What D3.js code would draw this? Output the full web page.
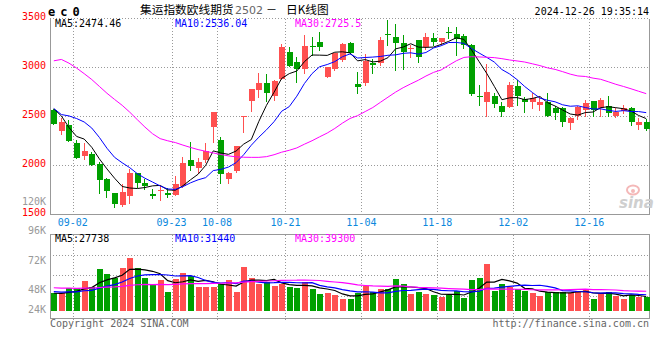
<!DOCTYPE html>
<html><head><meta charset="utf-8">
<script src="https://cdn.jsdelivr.net/npm/d3@7"></script>
<style>body{margin:0;background:#fff}svg{display:block}</style>
</head><body><svg id="c" width="660" height="360"></svg>
<script>
// ---------- data ----------
const dates = ["08-29","08-30",
"09-02","09-03","09-04","09-05","09-06","09-09","09-10","09-11","09-12","09-13","09-18","09-19","09-20","09-23","09-24","09-25","09-26","09-27","09-30",
"10-08","10-09","10-10","10-11","10-14","10-15","10-16","10-17","10-18","10-21","10-22","10-23","10-24","10-25","10-28","10-29","10-30","10-31",
"11-01","11-04","11-05","11-06","11-07","11-08","11-11","11-12","11-13","11-14","11-15","11-18","11-19","11-20","11-21","11-22","11-25","11-26","11-27","11-28","11-29",
"12-02","12-03","12-04","12-05","12-06","12-09","12-10","12-11","12-12","12-13","12-16","12-17","12-18","12-19","12-20","12-23","12-24","12-25","12-26"];
const open  = [2564,2354,2411,2224,2095,2115,2013,1860,1717,1595,1690,1918,1823,1711,1741,1714,1697,1789,2054,1969,2054,2394,2258,1857,1945,2496,2660,2768,2843,2710,2885,3155,3051,2979,3217,3256,2904,2979,3075,3245,2830,2836,3040,3040,3336,3313,3245,3183,3279,3205,3300,3258,3356,3340,3319,3228,2705,2649,2707,2605,2598,2809,2677,2649,2615,2649,2588,2581,2435,2503,2564,2656,2581,2605,2503,2554,2581,2411,2445];
const high  = [2570,2479,2462,2258,2224,2132,2037,1874,1720,1809,1959,1920,1857,1755,1789,1765,1891,2088,2234,2078,2224,2544,2285,1935,2197,2503,2775,2938,2932,2875,3240,3210,3108,3330,3305,3364,3006,3149,3245,3262,2955,3140,3081,3313,3483,3440,3330,3228,3279,3346,3345,3300,3414,3414,3340,3240,2819,3030,2741,2649,2853,2870,2700,2734,2700,2741,2605,2592,2489,2605,2666,2656,2683,2707,2581,2615,2592,2479,2469];
const low   = [2420,2323,2248,2075,2064,2000,1721,1680,1578,1588,1612,1775,1755,1670,1646,1680,1695,1782,1952,1925,2037,2241,1823,1816,1935,2343,2558,2700,2660,2670,2880,3017,2853,2938,3125,3172,2898,2972,3068,3142,2738,2819,2938,3023,3230,2972,2979,3110,3057,3190,3230,3240,3300,3125,3200,2720,2615,2500,2600,2503,2592,2615,2547,2581,2564,2503,2469,2401,2367,2469,2503,2503,2503,2503,2490,2530,2411,2367,2360];
const close = [2425,2438,2252,2078,2146,2003,1850,1738,1605,1724,1925,1823,1789,1690,1748,1694,1806,2020,1993,2030,2149,2544,1911,1925,2197,2503,2775,2843,2741,2865,3210,3017,2979,3217,3204,3204,3003,3142,3238,3149,2796,3068,3023,3279,3326,3245,3159,3194,3108,3310,3262,3295,3350,3289,3228,2725,2698,2751,2626,2547,2819,2711,2649,2683,2649,2507,2537,2445,2479,2592,2639,2564,2666,2530,2540,2588,2445,2440,2370];
const volume = [34300,34300,44000,44000,58200,46600,81500,71800,63400,84100,103500,82800,64700,50400,60200,36900,62100,74400,67900,47200,45900,47200,51700,60200,37600,85400,64700,52400,55600,48500,51700,47200,45300,57000,42700,33000,35600,31100,23300,23300,34300,48500,37600,42700,42700,62100,52400,33000,37600,33000,31100,27900,31100,39500,25900,60200,64700,90500,39500,52400,45900,42700,39500,34300,29800,37600,37600,37600,34300,39500,40800,23300,33000,37600,29800,23300,32000,27900,27900];
// closes / volumes of the 29 sessions before the first visible one (for the moving averages)
const priorCloses = [2018,3392,3578,3856,3803,3950,3838,3495,3524,4025,4133,4039,3730,3248,2354,2346,2800,2713,2690,2659,3054,2391,2345,2497,2623,2805,2843,2531,2280];
const priorVolumes = [52000,47000,55000,48000,44000,50000,53000,46000,49000,51000,45000,48000,56000,50000,47000,49000,52000,46000,48000,44000,42000,39000,44000,38000,40000,36000,33000,35000,34000];
const priceTicks = [3500,3000,2500,2000,1500];
const priceGrid = [3000,2500,2000];
const volTickValues = [120000,96000,72000,48000,24000];
const volTickLabels = ["120K","96K","72K","48K","24K"];
const dateTicks = ["09-02","09-23","10-08","10-21","11-04","11-18","12-02","12-16"];
const maPeriods = [5,10,30];
const maColors = ["#000000","#0000ff","#ff00ff"];
const priceMaLabels = ["MA5:2474.46","MA10:2536.04","MA30:2725.5"];
const volMaLabels = ["MA5:27738","MA10:31440","MA30:39300"];
const titleParts = ["集运指数欧线期货","2502","－","日K线图"];
const symbolText = "e c 0";
const timeText = "2024-12-26 19:35:14";

// ---------- layout ----------
const svg = d3.select("#c");
const L = 50, R = 650, mTop = 18.3, mBot = 214.3, vTop = 234.3, vBot = 317.7, vBase = 311;
const RED = "#ff5050", GREEN = "#00a000", GRID = "#999", BORDER = "#999";
const mono = "'DejaVu Sans Mono', monospace";

const x = d3.scaleBand().domain(dates).range([L, R]).padding(0);
const bw = x.bandwidth();
const cx = i => x(dates[i]) + bw / 2;
const yP = d3.scaleLinear().domain([1500, 3500]).range([mBot, mTop]);
const yV = d3.scaleLinear().domain([0, 100000]).range([vBase, vBase - 51.5]);
const yVLabel = d3.scaleLinear().domain([24000, 120000]).range([322.5, 205]);

svg.append("rect").attr("width", 660).attr("height", 360).attr("fill", "#fff");

// grids
const g = svg.append("g").attr("shape-rendering", "crispEdges");
priceGrid.forEach(p => {
  const y = Math.round(yP(p)) + 0.5;
  g.append("line").attr("x1", L).attr("x2", R).attr("y1", y).attr("y2", y)
    .attr("stroke", GRID).attr("stroke-dasharray", "1,2");
});
[255.5, 275.5, 296.5].forEach(y => {
  g.append("line").attr("x1", L).attr("x2", R).attr("y1", y).attr("y2", y)
    .attr("stroke", GRID).attr("stroke-dasharray", "1,2");
});
dateTicks.forEach(d => {
  const xx = Math.round(x(d) + bw) + 0.5;
  g.append("line").attr("x1", xx).attr("x2", xx).attr("y1", 19).attr("y2", 214)
    .attr("stroke", GRID).attr("stroke-dasharray", "1,2");
  g.append("line").attr("x1", xx).attr("x2", xx).attr("y1", 235).attr("y2", 320)
    .attr("stroke", GRID).attr("stroke-dasharray", "1,2");
  svg.append("text").attr("x", x(d) + bw).attr("y", 225.5).attr("text-anchor", "middle")
    .attr("font-family", mono).attr("font-size", 10).attr("fill", "#0a88dd").text(d);
});

// frames
g.append("line").attr("x1", L).attr("x2", R).attr("y1", 18.5).attr("y2", 18.5).attr("stroke", GRID).attr("stroke-dasharray", "1,2");
g.append("path").attr("d", `M${L+0.5},18.5V${mBot+0.5}H${R-0.5}V18.5`).attr("fill", "none").attr("stroke", BORDER);
g.append("rect").attr("x", L + 0.5).attr("y", vTop + 0.5).attr("width", R - L - 1).attr("height", vBot - vTop).attr("fill", "none").attr("stroke", BORDER);

// sina watermark
const wm = svg.append("g");
wm.append("ellipse").attr("cx", 633).attr("cy", 190).attr("rx", 6).attr("ry", 4.5).attr("fill", "none").attr("stroke", "#f4b8b8").attr("stroke-width", 2);
wm.append("circle").attr("cx", 633).attr("cy", 191).attr("r", 2).attr("fill", "#f4b8b8");
wm.append("text").attr("x", 619).attr("y", 208).attr("font-family", "'DejaVu Sans', sans-serif")
  .attr("font-size", 15).attr("font-weight", "bold").attr("font-style", "italic").attr("fill", "#cfcfcf").text("sina");

// candles
const cg = svg.append("g").attr("shape-rendering", "crispEdges");
dates.forEach((d, i) => {
  const up = close[i] >= open[i];
  const col = up ? RED : GREEN;
  const c = Math.floor(cx(i));
  cg.append("line").attr("x1", c + 0.5).attr("x2", c + 0.5)
    .attr("y1", Math.round(yP(high[i]))).attr("y2", Math.round(yP(low[i])) + 1).attr("stroke", col);
  const yt = Math.round(yP(Math.max(open[i], close[i])));
  const yb = Math.round(yP(Math.min(open[i], close[i])));
  cg.append("rect").attr("x", c - 2).attr("width", 6).attr("y", yt).attr("height", Math.max(1, yb - yt)).attr("fill", col);
  const vy = Math.round(yV(volume[i]));
  cg.append("rect").attr("x", c - 2).attr("width", 6).attr("y", vy).attr("height", vBase - vy).attr("fill", col);
});

// moving averages
function movingAvg(prior, vals, n) {
  const all = prior.concat(vals), off = prior.length;
  return vals.map((v, i) => d3.mean(all.slice(off + i - n + 1, off + i + 1)));
}
maPeriods.forEach((n, k) => {
  const pm = movingAvg(priorCloses, close, n);
  svg.append("path").attr("fill", "none").attr("stroke", maColors[k]).attr("stroke-width", 1)
    .attr("d", d3.line().x((v, i) => cx(i)).y(v => yP(v))(pm));
  const vm = movingAvg(priorVolumes, volume, n);
  svg.append("path").attr("fill", "none").attr("stroke", maColors[k]).attr("stroke-width", 1.2)
    .attr("d", d3.line().x((v, i) => cx(i)).y(v => yV(v))(vm));
});

// axis labels
priceTicks.forEach(p => {
  svg.append("text").attr("x", 46).attr("y", yP(p) + 1.3).attr("text-anchor", "end")
    .attr("font-family", mono).attr("font-size", 10).attr("fill", "#ff0000").text(p);
});
volTickValues.forEach((v, k) => {
  svg.append("text").attr("x", 46).attr("y", Math.min(313.3, yVLabel(v))).attr("text-anchor", "end")
    .attr("font-family", mono).attr("font-size", 10).attr("fill", "#999").text(volTickLabels[k]);
});

// MA readouts
const maX = [55, 175, 295];
priceMaLabels.forEach((t, k) => svg.append("text").attr("x", maX[k]).attr("y", 26.5)
  .attr("font-family", mono).attr("font-size", 10).attr("fill", maColors[k]).text(t));
volMaLabels.forEach((t, k) => svg.append("text").attr("x", maX[k]).attr("y", 242.3)
  .attr("font-family", mono).attr("font-size", 10).attr("fill", maColors[k]).text(t));

// header
svg.append("text").attr("x", 48).attr("y", 15.5).attr("font-family", mono).attr("font-size", 12)
  .attr("letter-spacing", -1.07).attr("font-weight", "bold").attr("fill", "#000").text(symbolText);
const cjk = "'Noto Sans CJK SC', sans-serif";
svg.append("text").attr("x", 140).attr("y", 14).attr("font-family", cjk).attr("font-size", 11.7).attr("fill", "#000").text(titleParts[0]);
svg.append("text").attr("x", 235).attr("y", 14).attr("font-family", "'DejaVu Sans', sans-serif").attr("font-size", 11).attr("fill", "#666").text(titleParts[1]);
svg.append("text").attr("x", 266).attr("y", 14).attr("font-family", cjk).attr("font-size", 11).attr("fill", "#000").text(titleParts[2]);
svg.append("text").attr("x", 286).attr("y", 14).attr("font-family", cjk).attr("font-size", 11.7).attr("fill", "#000").text(titleParts[3]);
svg.append("text").attr("x", 649).attr("y", 15).attr("text-anchor", "end").attr("font-family", mono).attr("font-size", 10).attr("fill", "#000").text(timeText);

// footer
svg.append("text").attr("x", 50).attr("y", 326.7).attr("font-family", mono).attr("font-size", 10).attr("fill", "#666").text("Copyright 2024 SINA.COM");
svg.append("text").attr("x", 649).attr("y", 326.7).attr("text-anchor", "end").attr("font-family", mono).attr("font-size", 10).attr("fill", "#666").text("http://finance.sina.com.cn");
</script></body></html>
